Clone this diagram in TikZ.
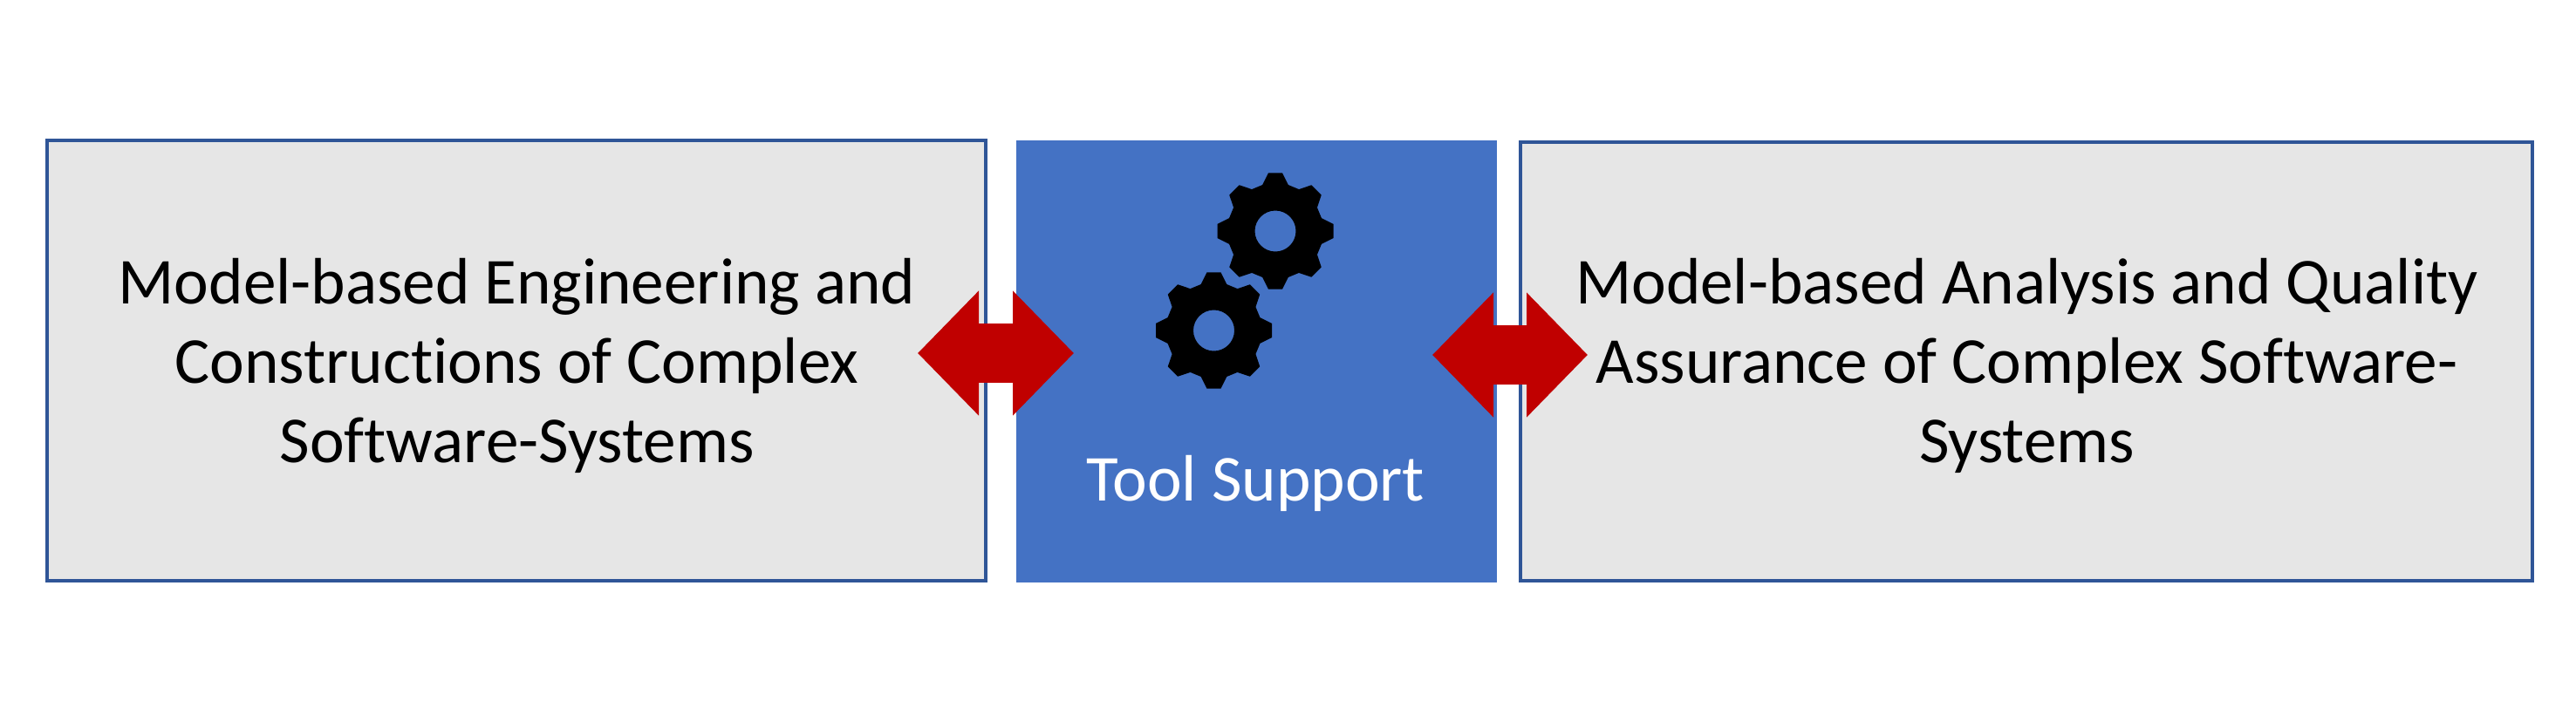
\documentclass[tikz,border=0pt]{standalone}
\usepackage{fontspec}
\setmainfont[Ligatures=NoCommon]{Carlito}
\usetikzlibrary{arrows.meta}
\definecolor{boxgray}{HTML}{E6E6E6}
\definecolor{boxline}{HTML}{2F5597}
\definecolor{toolblue}{HTML}{4472C4}
\definecolor{linkred}{HTML}{C00000}
\tikzset{
    topicbox/.style={draw=boxline,line width=0.04cm,fill=boxgray,inner sep=0pt},
    toolbox/.style={fill=toolblue,minimum width=5.51cm,minimum height=5.07cm,inner sep=0pt},
    boxtext/.style={align=center,inner sep=0pt,font=\fontsize{21.4}{25.9}\selectfont},
    link/.style={linkred,line width=0.68cm,{Triangle[length=0.7cm,width=1.39cm]}-{Triangle[length=0.7cm,width=1.39cm]}}
}
\begin{document}
\begin{tikzpicture}
\useasboundingbox (0,0) rectangle (29.53,8.27);

\node[topicbox,minimum width=10.76cm,minimum height=5.05cm] (leftbox) at (5.92,4.135) {};
\node[topicbox,minimum width=11.60cm,minimum height=5.03cm] (rightbox) at (23.23,4.125) {};
\node[toolbox] (tool) at (14.405,4.125) {};

\node[boxtext] (lefttext) at (5.925,4.08)
    {Model-based Engineering and\\Constructions of Complex\\Software-Systems};
\node[boxtext] (righttext) at (23.235,4.08)
    {Model-based Analysis and Quality\\Assurance of Complex Software-\\Systems};
\node[boxtext,text=white] (toollabel) at (14.395,2.73) {Tool Support};

% gears
\foreach \gearx/\geary in {14.62/5.62,13.915/4.48}{
    \fill[black,even odd rule,shift={(\gearx,\geary)}] (-15.6:0.55)
        \foreach \a in {0,45,...,315}{
            -- (\a-15.6:0.55) -- (\a-6.9:0.67) -- (\a+6.9:0.67) -- (\a+15.6:0.55)
        } -- cycle
        (0,0) circle (0.235);
}

% double arrows
\coordinate (leftlinka) at (10.52,4.22);
\coordinate (leftlinkb) at (12.31,4.22);
\coordinate (rightlinka) at (16.42,4.20);
\coordinate (rightlinkb) at (18.20,4.20);
\draw[link] (leftlinka) -- (leftlinkb);
\draw[link] (rightlinka) -- (rightlinkb);
\end{tikzpicture}
\end{document}
